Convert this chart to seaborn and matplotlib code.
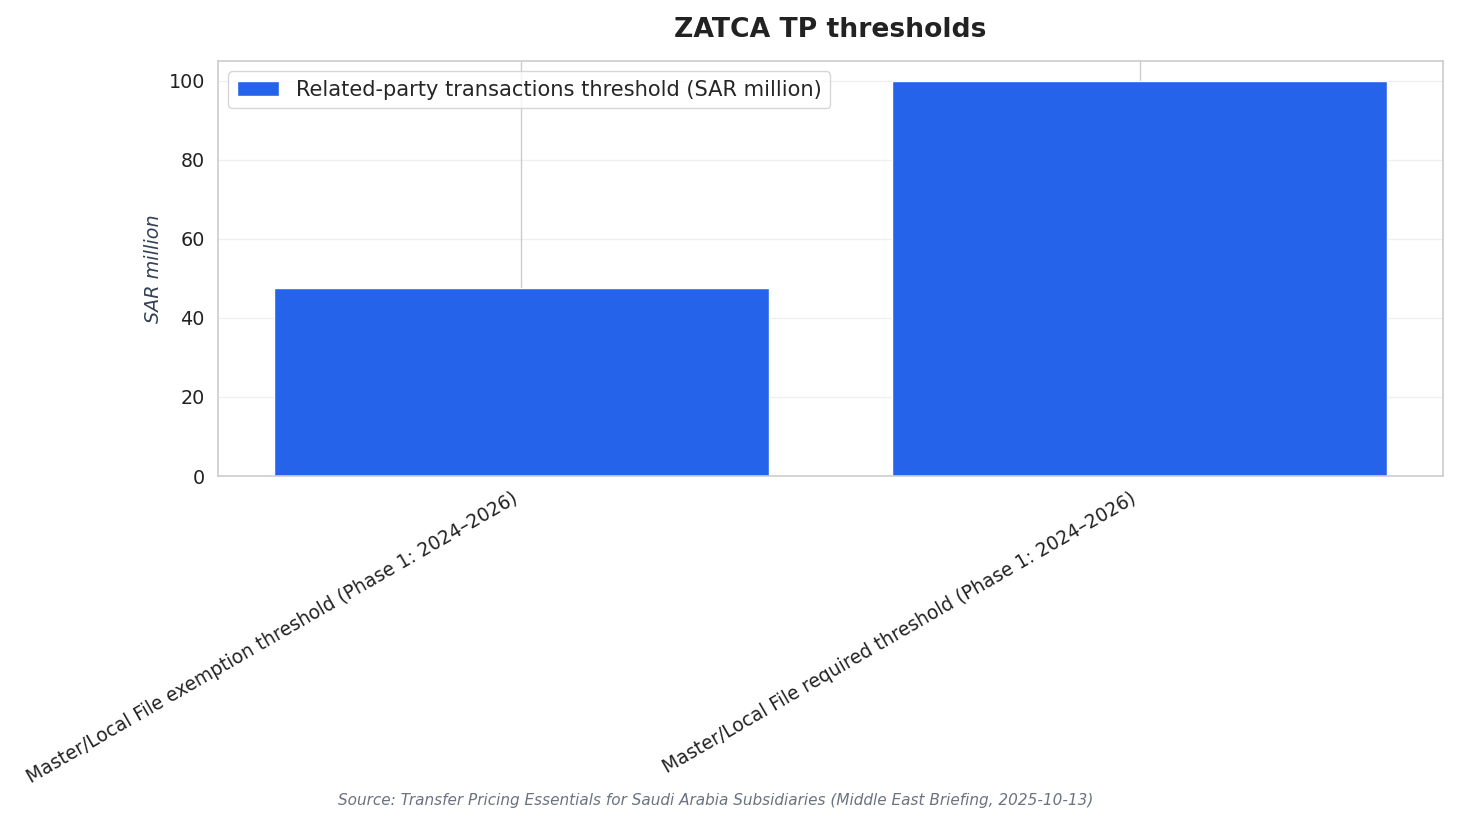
import pandas as pd
import seaborn as sns
import matplotlib.pyplot as plt

# data
categories = [
    "Master/Local File exemption threshold (Phase 1: 2024\u20132026)",
    "Master/Local File required threshold (Phase 1: 2024\u20132026)",
]
values = [47.5, 100]
series_name = "Related-party transactions threshold (SAR million)"

df = pd.DataFrame({"category": categories, "value": values})

sns.set_theme(style="whitegrid")
plt.rcParams["font.family"] = ["DejaVu Sans"]

fig, ax = plt.subplots(figsize=(14.58, 8.24), dpi=100)
fig.subplots_adjust(left=0.1495, right=0.9897, top=0.926, bottom=0.4223)

sns.barplot(data=df, x="category", y="value", color="#2563EB", saturation=1,
            width=0.8, label=series_name, ax=ax)

# go back to matplotlib's default margins around the bars
ax.relim()
ax.autoscale(enable=True, axis="x")
ax.margins(x=0.05, y=0.05)
ax.autoscale_view()

ax.set_axisbelow(True)
ax.xaxis.grid(True, color="#cccccc", linewidth=1.0)
ax.yaxis.grid(True, alpha=0.3)
for s in ax.spines.values():
    s.set_color("#cccccc")
    s.set_linewidth(1.2)

ax.set_title("ZATCA TP thresholds", fontsize=19.2, fontweight="bold",
             color="#222222", pad=17)
ax.set_xlabel("")
ax.set_ylabel("SAR million", fontsize=13.75, fontstyle="italic", color="#334155")
ax.tick_params(axis="y", labelsize=13.75, colors="#222222")
ax.tick_params(axis="x", labelsize=13.4, colors="#222222")
plt.setp(ax.get_xticklabels(), rotation=30, ha="right")

ax.legend(loc="upper left", fontsize=15.1, frameon=True)

fig.text(0.491, 0.029, "Source: Transfer Pricing Essentials for Saudi Arabia Subsidiaries "
         "(Middle East Briefing, 2025-10-13)", ha="center", va="center",
         fontsize=10.95, fontstyle="italic", color="#6b7280")

fig.savefig("out.png", dpi=100)
